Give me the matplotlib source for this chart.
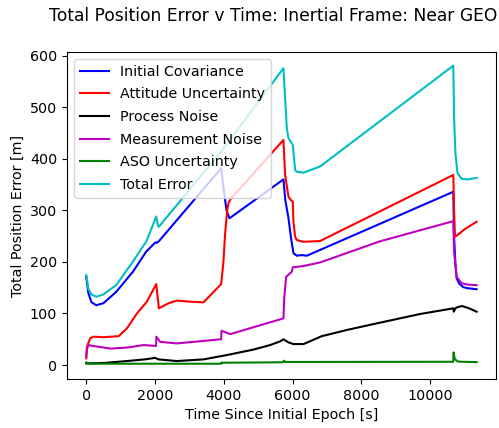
import matplotlib
matplotlib.use("Agg")
import matplotlib.pyplot as plt

# values
t_init = [0, 60, 150, 290, 500, 872, 1357, 1744, 2015, 2054, 2110, 3924, 3990, 4080, 4167,
          5736, 5790, 5882, 5960, 6027, 6124, 6230, 6318, 6415, 10678, 10700, 10740, 10775,
          10850, 10968, 11100, 11357]
v_init = [171, 140, 122, 116, 120, 142, 181, 220, 238, 237, 240, 381.5, 345, 300, 284.6,
          360, 320, 285, 245, 217, 212, 213, 213, 212, 336, 250, 195, 168,
          158, 151, 149, 147]

t_att = [0, 19, 116, 213, 503, 940, 1182, 1473, 1764, 2035, 2113, 2400, 2636, 3000, 3411,
         3924, 3990, 4040, 4100, 4137, 4200, 5736, 5785, 5882, 5979, 6008, 6027, 6076, 6124,
         6318, 6802, 10678, 10700, 10727, 10800, 11000, 11357]
v_att = [13, 35.5, 52, 55, 54, 56, 71, 100, 123, 157, 110, 120, 125, 123, 121.6,
         157, 200, 255, 300, 314, 322, 436.5, 368.6, 326.5, 318, 317, 278, 249, 242.5,
         239, 240.5, 368.6, 300, 249, 252, 263, 278]

t_proc = [0, 500, 1182, 1700, 2006, 2100, 2636, 3411, 4089, 4864, 5349, 5640, 5736, 5882,
          6027, 6318, 6850, 7578, 8256, 9709, 10678, 10690, 10750, 10921, 11100, 11357]
v_proc = [3.2, 4, 7.8, 11, 14, 11, 7.8, 11, 19.4, 30, 38.8, 46, 50, 44,
          40.7, 40.7, 56, 68, 78, 99, 110, 103.5, 111, 114.5, 111, 103.5]

t_meas = [0, 20, 60, 200, 698, 1200, 1667, 2030, 2040, 2151, 2636, 3924, 3935, 4186,
          5736, 5760, 5814, 5979, 6008, 6318, 6802, 8547, 10678, 10700, 10775, 10921,
          11100, 11357]
v_meas = [17, 30, 38.8, 37, 32, 34, 38.8, 37, 55, 45, 42, 50, 66.5, 60,
          90.5, 130, 171, 181, 189.5, 192, 199, 240, 279, 220, 171, 158.5,
          156, 155]

t_aso = [0, 50, 3924, 3935, 3960, 5349, 5736, 5745, 5800, 10678, 10685, 10720, 10800,
         10921, 11357]
v_aso = [5.2, 2.6, 2.6, 5, 4.5, 5.2, 5.5, 8.4, 6, 6.4, 24.6, 12, 7, 6.4, 5.8]

t_tot = [0, 60, 150, 290, 500, 872, 1350, 1750, 2035, 2080, 2110, 3924, 5736, 5834, 5882,
         5979, 6008, 6027, 6076, 6124, 6318, 6802, 10678, 10700, 10740, 10800, 10921,
         11100, 11357]
v_tot = [174.6, 148, 137, 132.5, 137, 155, 200, 240, 288, 272, 268, 414, 575.5, 459, 440,
         430, 427, 414, 378, 375, 373, 385, 580.6, 480, 410, 372, 361,
         360, 363]

plt.rcParams['font.size'] = 10.3

fig = plt.figure(figsize=(4.99, 4.28), dpi=100)
ax = fig.add_axes([0.1343, 0.1145, 0.8597, 0.764])

ax.plot(t_init, v_init, 'b', label='Initial Covariance')
ax.plot(t_att, v_att, 'r', label='Attitude Uncertainty')
ax.plot(t_proc, v_proc, 'k', label='Process Noise')
ax.plot(t_meas, v_meas, 'm', label='Measurement Noise')
ax.plot(t_aso, v_aso, 'g', label='ASO Uncertainty')
ax.plot(t_tot, v_tot, 'c', label='Total Error')

ax.set_xlim(-560, 11920)
ax.set_ylim(-27, 607)
ax.set_xlabel('Time Since Initial Epoch [s]')
ax.set_ylabel('Total Position Error [m]')
ax.legend(loc='upper left', labelspacing=0.6)
fig.suptitle('Total Position Error v Time: Inertial Frame: Near GEO',
             x=0.547, y=0.963, va='center')

fig.savefig('out.png', dpi=100)
